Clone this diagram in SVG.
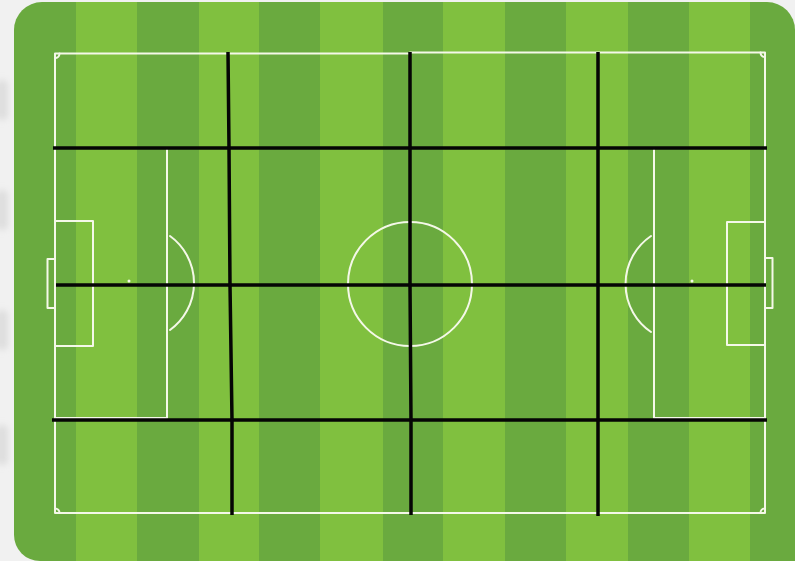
<svg xmlns="http://www.w3.org/2000/svg" width="795" height="561" viewBox="0 0 795 561">
  <defs>
    <clipPath id="fieldClip">
      <path d="M42,2 H767 A28,28 0 0 1 795,30 V561 H40 A26,26 0 0 1 14,535 V30 A28,28 0 0 1 42,2 Z"/>
    </clipPath>
    <filter id="soft" x="-50%" y="-50%" width="200%" height="200%">
      <feGaussianBlur stdDeviation="3"/>
    </filter>
  </defs>
  <style>
    .dark { fill: #6aaa3f; }
    .light { fill: #80c03f; }
    .chalk { fill: none; stroke: #f4f8e8; stroke-width: 2; stroke-linecap: round; stroke-linejoin: round; }
    .grid { fill: none; stroke: #050505; stroke-width: 3.5; stroke-linecap: butt; stroke-linejoin: round; }
  </style>

  <!-- background -->
  <rect x="0" y="0" width="795" height="561" fill="#f1f1f1"/>
  <g fill="#dedede" filter="url(#soft)">
    <rect x="-4" y="80" width="12" height="40" rx="5"/>
    <rect x="-4" y="190" width="12" height="40" rx="5"/>
    <rect x="-4" y="310" width="12" height="40" rx="5"/>
    <rect x="-4" y="425" width="12" height="40" rx="5"/>
  </g>

  <!-- pitch stripes -->
  <g id="pitch" clip-path="url(#fieldClip)">
    <rect class="dark" x="14" y="0" width="62" height="561"/>
    <rect class="light" x="76" y="0" width="61" height="561"/>
    <rect class="dark" x="137" y="0" width="62" height="561"/>
    <rect class="light" x="199" y="0" width="60" height="561"/>
    <rect class="dark" x="259" y="0" width="61" height="561"/>
    <rect class="light" x="320" y="0" width="63" height="561"/>
    <rect class="dark" x="383" y="0" width="60" height="561"/>
    <rect class="light" x="443" y="0" width="62" height="561"/>
    <rect class="dark" x="505" y="0" width="61" height="561"/>
    <rect class="light" x="566" y="0" width="62" height="561"/>
    <rect class="dark" x="628" y="0" width="61" height="561"/>
    <rect class="light" x="689" y="0" width="61" height="561"/>
    <rect class="dark" x="750" y="0" width="45" height="561"/>
  </g>

  <!-- field markings -->
  <g id="markings">
    <path class="chalk" d="M55,53.5 H410 L410,52.5 H765 V513 H55 Z"/>
    <!-- corner arcs -->
    <path class="chalk" d="M55,58 A4.5,4.5 0 0 0 59.5,53.5"/>
    <path class="chalk" d="M760.5,52.5 A4.5,4.5 0 0 0 765,57"/>
    <path class="chalk" d="M55,508.5 A4.5,4.5 0 0 1 59.5,513"/>
    <path class="chalk" d="M760.5,513 A4.5,4.5 0 0 1 765,508.5"/>
    <!-- center circle and spot -->
    <circle class="chalk" cx="410" cy="284" r="62"/>
    <!-- left penalty area -->
    <path class="chalk" d="M55,148 H167 V418 H55"/>
    <path class="chalk" d="M170,236 A58,58 0 0 1 170,330"/>
    <path class="chalk" d="M56,221 H93 V346 H56"/>
    <path class="chalk" d="M55,259 H47.5 V308 H55"/>
    <circle cx="129" cy="281" r="1.5" fill="#f4f8e8"/>
    <!-- right penalty area -->
    <path class="chalk" d="M765,148 H654 V418 H765"/>
    <path class="chalk" d="M651,236 A58,58 0 0 0 651,332"/>
    <path class="chalk" d="M765,222 H727 V345 H765"/>
    <path class="chalk" d="M765,258 H772.5 V308 H765"/>
    <circle cx="692" cy="281" r="1.5" fill="#f4f8e8"/>
  </g>

  <!-- grid lines -->
  <g id="connectors">
    <path class="grid" d="M53,148 H767"/>
    <path class="grid" d="M56,285 H766"/>
    <path class="grid" d="M52,420 H767"/>
    <path class="grid" d="M228,52 L229,148 L230,285 L232,420 L232,515"/>
    <path class="grid" d="M410,52 L410,285 L411,420 L411,515"/>
    <path class="grid" d="M598,52 L598,285 L598,420 L598,516"/>
  </g>
</svg>
